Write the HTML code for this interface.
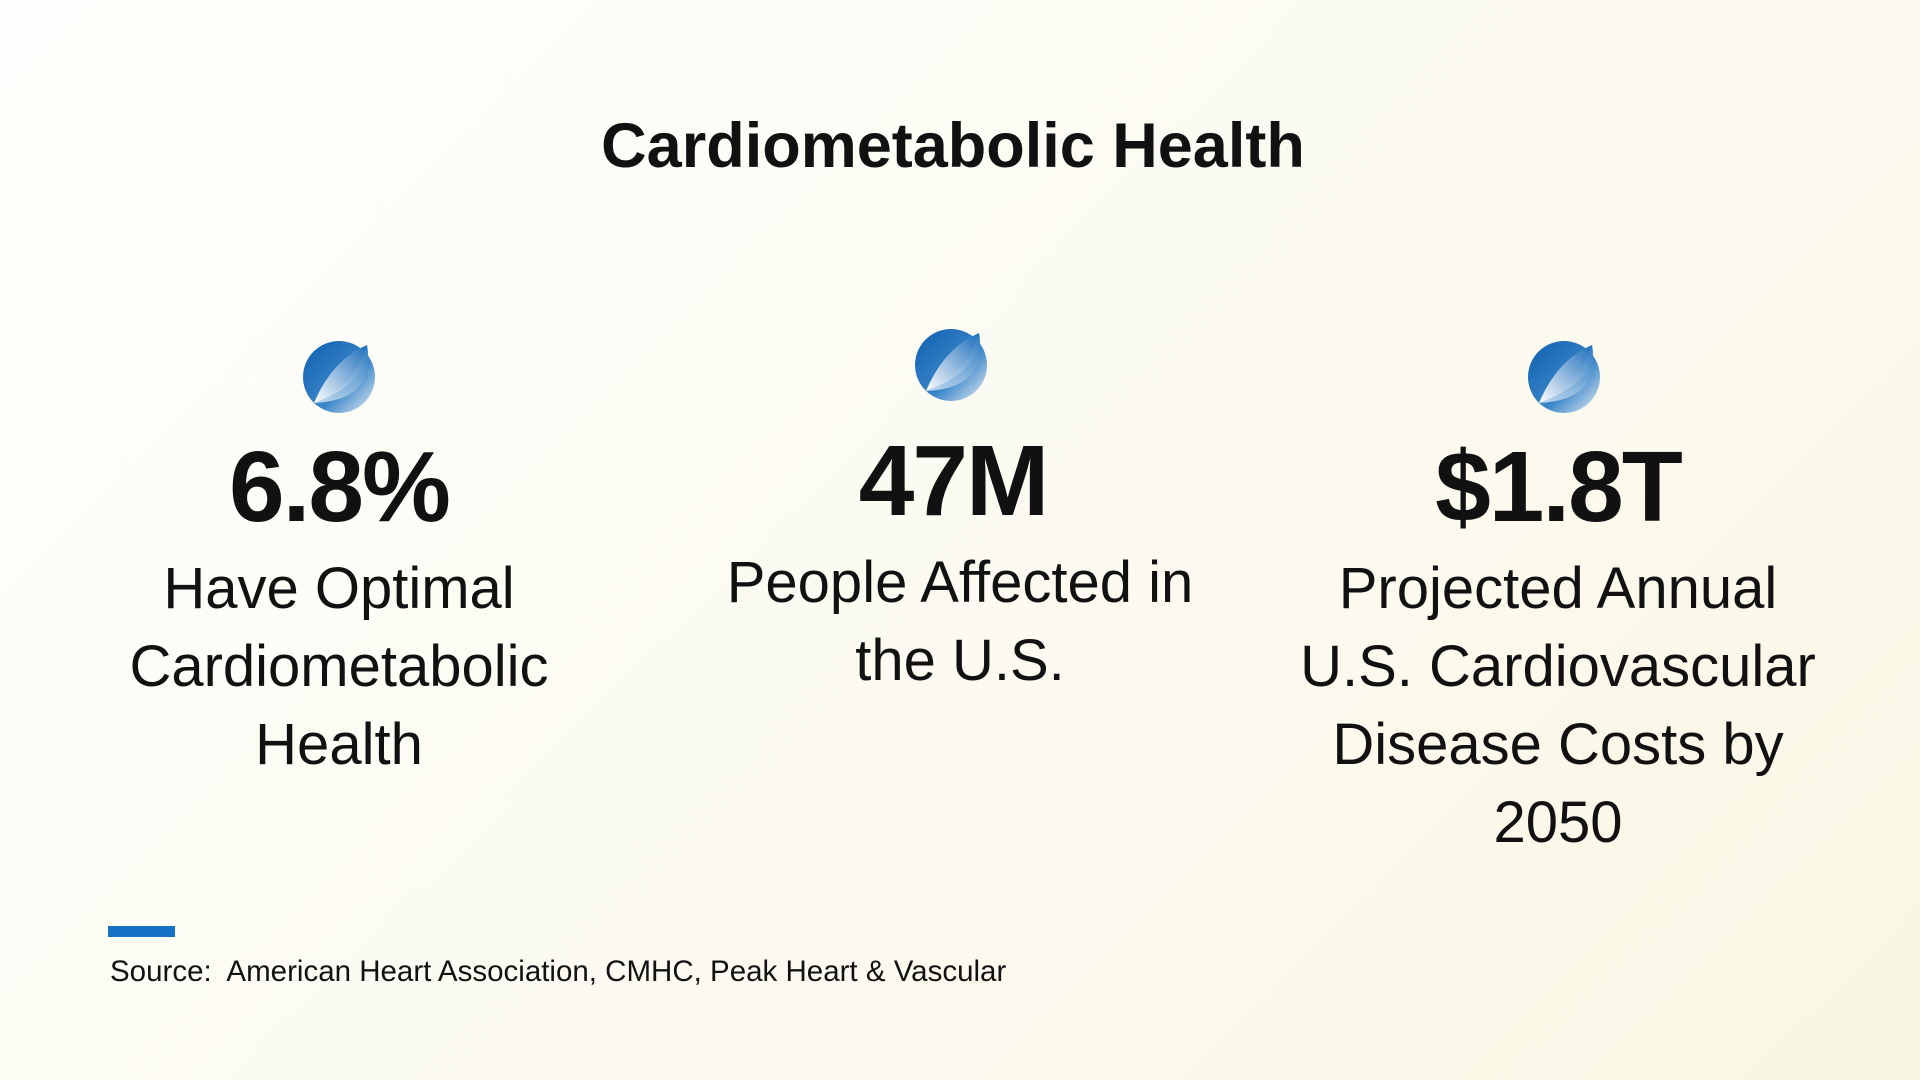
<!DOCTYPE html>
<html><head><style>
body{margin:0;width:1920px;height:1080px;overflow:hidden;background:linear-gradient(135deg,#fefefc 0%,#fcfaf0 60%,#faf6e4 100%);font-family:"Liberation Sans",sans-serif;color:#111;position:relative}
.t{position:absolute;left:0;width:1906px;text-align:center;top:110px;font-size:63px;font-weight:bold}
.col{position:absolute;width:600px;text-align:center}
.num{font-size:100px;font-weight:bold;line-height:1;letter-spacing:-2px}
.lab{font-size:58px;line-height:78px;margin-top:13px}
.ic{position:absolute;width:74px;height:74px}
.bar{position:absolute;left:108px;top:926px;width:67px;height:11px;background:#1572c4}
.src{position:absolute;left:110px;top:955px;font-size:29.5px}
</style></head><body>
<div class="t">Cardiometabolic Health</div>
<svg width="0" height="0"><defs>
<linearGradient id="g1" x1="0" y1="0" x2="1" y2="1"><stop offset="0" stop-color="#0f5fb0"/><stop offset="0.6" stop-color="#3b86c8"/><stop offset="1" stop-color="#e6eef6"/></linearGradient>
<linearGradient id="g2" x1="1" y1="0" x2="0" y2="1"><stop offset="0" stop-color="#1a6cbb"/><stop offset="1" stop-color="#ffffff"/></linearGradient>
<linearGradient id="g3" x1="0" y1="1" x2="1" y2="0"><stop offset="0" stop-color="#ffffff"/><stop offset="1" stop-color="#2b7bc2"/></linearGradient>
</defs></svg>
<svg class="ic" style="left:302px;top:340px" viewBox="0 0 74 74"><circle cx="37" cy="37" r="36" fill="url(#g1)"/><path d="M12 63 Q30 20 65 5 Q72 40 12 63Z" fill="url(#g2)"/><path d="M12 63 Q50 50 65 5 Q75 60 12 63Z" fill="url(#g3)" opacity="0.7"/></svg>
<svg class="ic" style="left:914px;top:328px" viewBox="0 0 74 74"><circle cx="37" cy="37" r="36" fill="url(#g1)"/><path d="M12 63 Q30 20 65 5 Q72 40 12 63Z" fill="url(#g2)"/><path d="M12 63 Q50 50 65 5 Q75 60 12 63Z" fill="url(#g3)" opacity="0.7"/></svg>
<svg class="ic" style="left:1527px;top:340px" viewBox="0 0 74 74"><circle cx="37" cy="37" r="36" fill="url(#g1)"/><path d="M12 63 Q30 20 65 5 Q72 40 12 63Z" fill="url(#g2)"/><path d="M12 63 Q50 50 65 5 Q75 60 12 63Z" fill="url(#g3)" opacity="0.7"/></svg>
<div class="col" style="left:39px;top:437px"><div class="num">6.8%</div><div class="lab">Have Optimal<br>Cardiometabolic<br>Health</div></div>
<div class="col" style="left:653px;top:431px"><div class="num">47M</div><div class="lab" style="padding-left:14px">People Affected in<br>the U.S.</div></div>
<div class="col" style="left:1258px;top:437px"><div class="num">$1.8T</div><div class="lab">Projected Annual<br>U.S. Cardiovascular<br>Disease Costs by<br>2050</div></div>
<div class="bar"></div>
<div class="src">Source:&nbsp; American Heart Association, CMHC, Peak Heart &amp; Vascular</div>
</body></html>
